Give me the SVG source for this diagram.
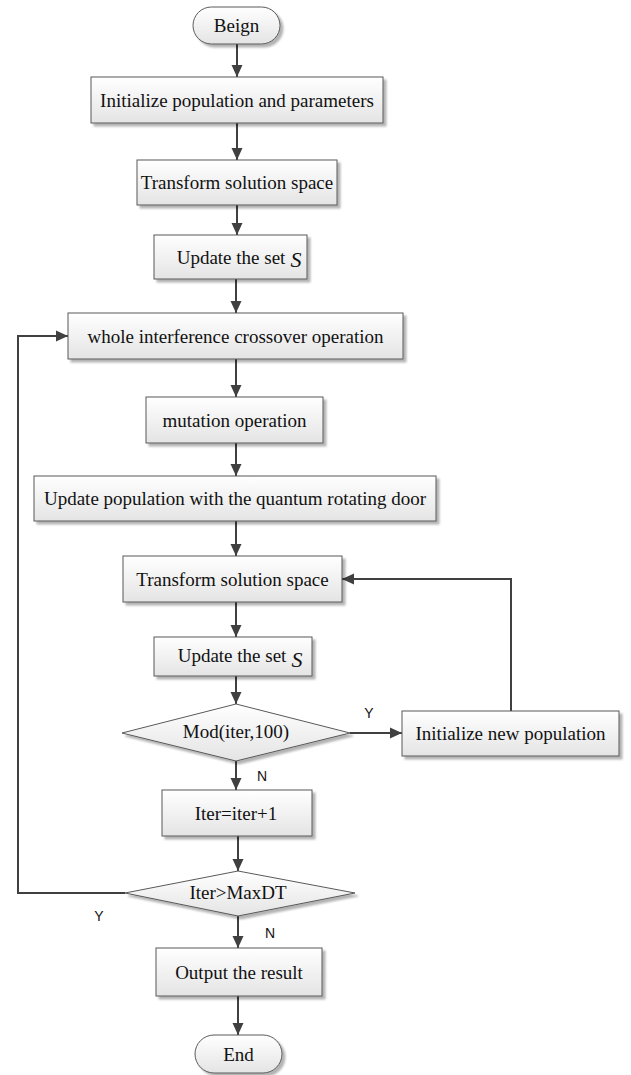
<svg xmlns="http://www.w3.org/2000/svg" width="631" height="1075" viewBox="0 0 631 1075">
<defs>
<linearGradient id="g" x1="0" y1="0" x2="0" y2="1">
<stop offset="0" stop-color="#ffffff"/>
<stop offset="1" stop-color="#e4e4e4"/>
</linearGradient>
<filter id="sh" x="-10%" y="-20%" width="130%" height="160%">
<feGaussianBlur in="SourceAlpha" stdDeviation="1.2"/>
<feOffset dx="3" dy="3" result="b"/>
<feComponentTransfer><feFuncA type="linear" slope="0.3"/></feComponentTransfer>
<feMerge><feMergeNode/><feMergeNode in="SourceGraphic"/></feMerge>
</filter>
<marker id="ah" markerWidth="12" markerHeight="12" viewBox="0 0 12 12" refX="12" refY="6" orient="auto" markerUnits="userSpaceOnUse">
<path d="M0,0.5 L12,6 L0,11.5 z" fill="#404040"/>
</marker>
</defs>
<style>
.box{fill:url(#g);stroke:#595959;stroke-width:1;filter:url(#sh)}
.t{font-family:"Liberation Serif","Times New Roman",serif;font-size:19px;fill:#111;text-anchor:middle;dominant-baseline:central}
.lab{font-family:"Liberation Sans",Arial,sans-serif;font-size:14px;fill:#111;text-anchor:middle;dominant-baseline:central}
.c{fill:none;stroke:#404040;stroke-width:2;marker-end:url(#ah)}
.s{font-style:italic;font-size:22px}
</style>
<rect width="631" height="1075" fill="#ffffff"/>
<g id="connectors">
<line class="c" x1="237" y1="44" x2="237" y2="77"/>
<line class="c" x1="237" y1="123" x2="237" y2="160"/>
<line class="c" x1="237" y1="205" x2="237" y2="235"/>
<line class="c" x1="236" y1="279" x2="236" y2="313"/>
<line class="c" x1="236" y1="359" x2="236" y2="397"/>
<line class="c" x1="236" y1="443" x2="236" y2="476"/>
<line class="c" x1="236" y1="521" x2="236" y2="556"/>
<line class="c" x1="236" y1="602" x2="236" y2="637"/>
<line class="c" x1="236" y1="676" x2="236" y2="704"/>
<line class="c" x1="350" y1="733" x2="402" y2="733"/>
<polyline class="c" points="511,711 511,579 342,579"/>
<line class="c" x1="236" y1="761" x2="236" y2="790"/>
<line class="c" x1="238" y1="836" x2="238" y2="871"/>
<polyline class="c" points="125,893 18,893 18,336 68,336"/>
<line class="c" x1="238" y1="916" x2="238" y2="948"/>
<line class="c" x1="238" y1="996" x2="238" y2="1035"/>
<text class="lab" x="369" y="713">Y</text>
<text class="lab" x="262" y="776">N</text>
<text class="lab" x="99" y="916">Y</text>
<text class="lab" x="270" y="933">N</text>
</g>
<g id="begin">
<rect class="box" x="193" y="7" width="87" height="37" rx="18.5" ry="18.5"/>
<text class="t" x="236.5" y="25.5">Beign</text>
</g>
<g id="init">
<rect class="box" x="91" y="77" width="292" height="46"/>
<text class="t" x="237" y="100">Initialize population and parameters</text>
</g>
<g id="transform1">
<rect class="box" x="137" y="160" width="200" height="45"/>
<text class="t" x="237" y="182.5">Transform solution space</text>
</g>
<g id="update1">
<rect class="box" x="154" y="235" width="153" height="44"/>
<text class="t" x="231" y="257">Update the set</text>
<text class="t s" x="296" y="259">S</text>
</g>
<g id="crossover">
<rect class="box" x="68" y="313" width="335" height="46"/>
<text class="t" x="235.5" y="336">whole interference crossover operation</text>
</g>
<g id="mutation">
<rect class="box" x="146" y="397" width="177" height="46"/>
<text class="t" x="234.5" y="420">mutation operation</text>
</g>
<g id="rotate">
<rect class="box" x="34" y="476" width="402" height="45"/>
<text class="t" x="235" y="498.5">Update population with the quantum rotating door</text>
</g>
<g id="transform2">
<rect class="box" x="123" y="556" width="219" height="46"/>
<text class="t" x="232.5" y="579">Transform solution space</text>
</g>
<g id="update2">
<rect class="box" x="154" y="637" width="158" height="39"/>
<text class="t" x="232" y="655">Update the set</text>
<text class="t s" x="297" y="659">S</text>
</g>
<g id="mod">
<polygon class="box" points="122,733 236,704 350,733 236,761"/>
<text class="t" x="236" y="731">Mod(iter,100)</text>
</g>
<g id="newpop">
<rect class="box" x="402" y="711" width="217" height="45"/>
<text class="t" x="510.5" y="733.5">Initialize new population</text>
</g>
<g id="iter">
<rect class="box" x="162" y="790" width="150" height="46"/>
<text class="t" x="236" y="813">Iter=iter+1</text>
</g>
<g id="maxdt">
<polygon class="box" points="125,893 238,871 355,893 238,916"/>
<text class="t" x="238" y="892">Iter&gt;MaxDT</text>
</g>
<g id="output">
<rect class="box" x="156" y="948" width="166" height="48"/>
<text class="t" x="239" y="972">Output the result</text>
</g>
<g id="end">
<rect class="box" x="195" y="1035" width="87" height="38" rx="19" ry="19"/>
<text class="t" x="238.5" y="1054">End</text>
</g>
</svg>
